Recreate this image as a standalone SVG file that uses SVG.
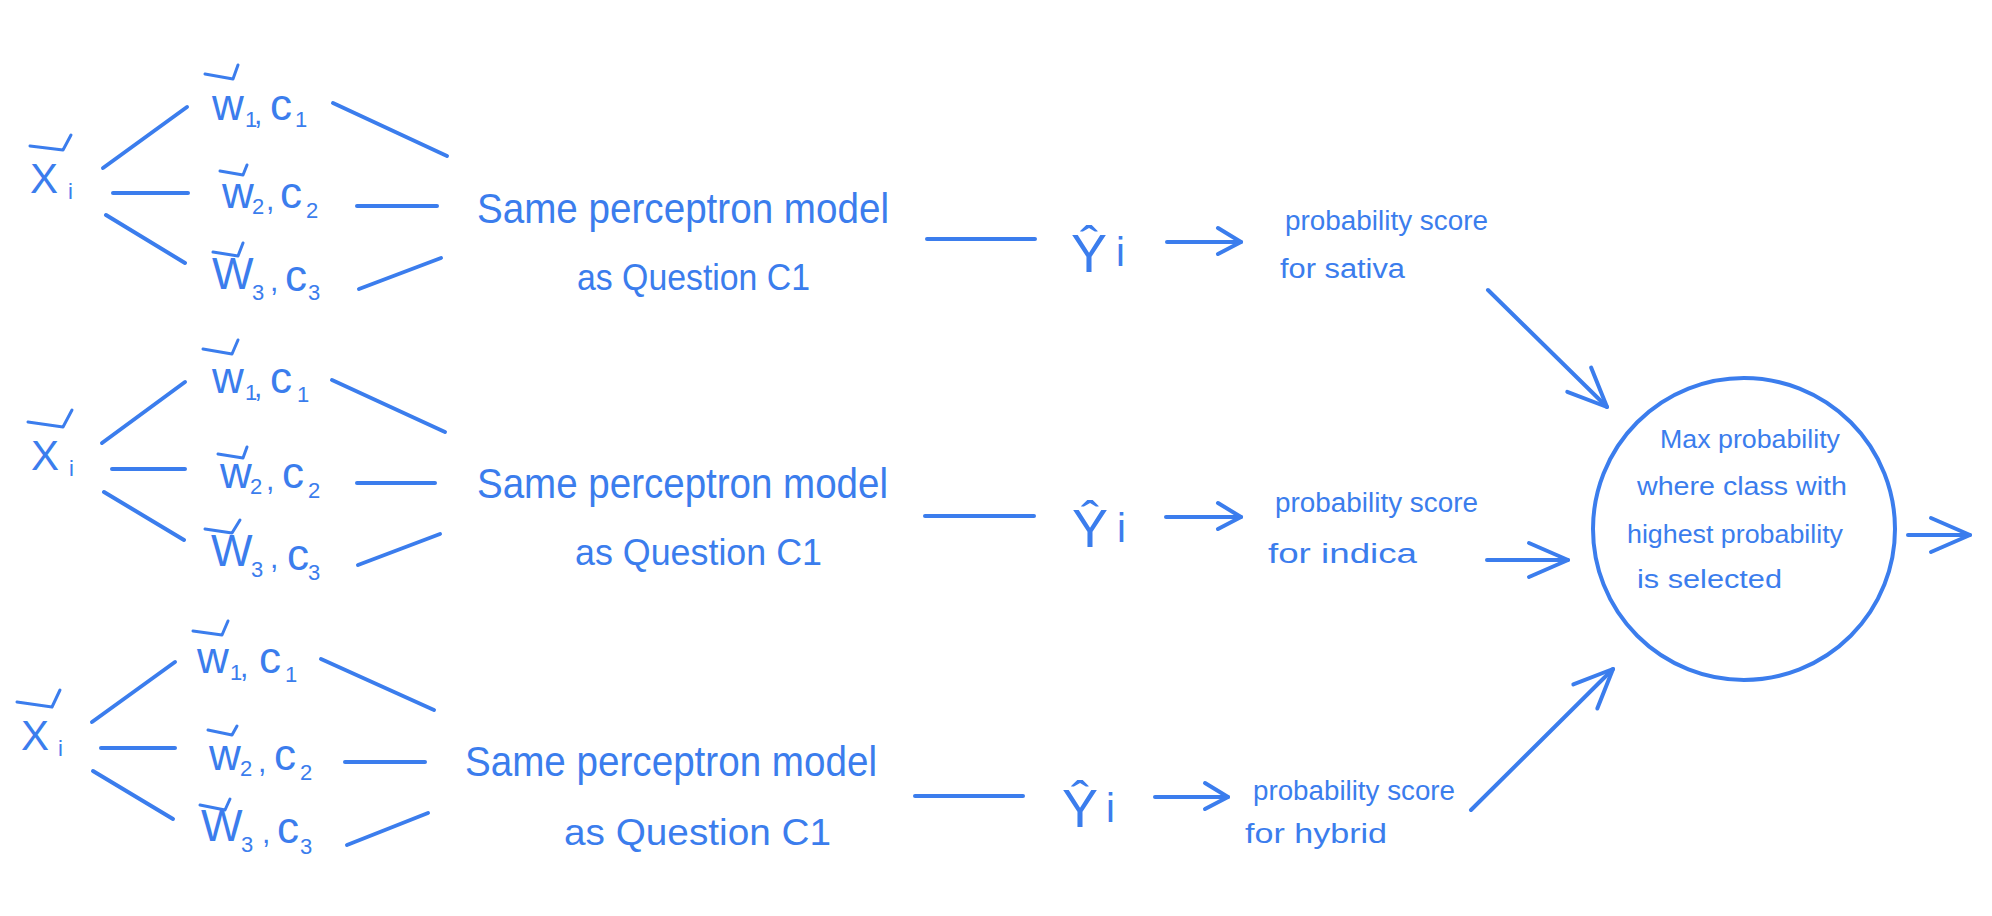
<svg xmlns="http://www.w3.org/2000/svg" width="1992" height="916" viewBox="0 0 1992 916">
<style>
.ink{fill:none;stroke:#3b7ded;stroke-width:4;stroke-linecap:round;stroke-linejoin:round}
.vec{fill:none;stroke:#3b7ded;stroke-width:3;stroke-linecap:round;stroke-linejoin:round}
.t{fill:#3b7ded;font-family:"Liberation Sans",Arial,sans-serif}
.big{font-size:44px}
.sub{font-size:22px}
.model{font-size:42px}
.as{font-size:36px}
.yh{font-size:54px}
.yi{font-size:40px}
.prob{font-size:27px}
.circ{font-size:25px}
</style>
<defs>
<marker id="ahs" markerUnits="userSpaceOnUse" viewBox="-30 -20 36 40" refX="0" refY="0" markerWidth="36" markerHeight="40" orient="auto" overflow="visible">
<path class="ink" d="M-23,-14 L0,0 L-23,12"/>
</marker>
<marker id="ahb" markerUnits="userSpaceOnUse" viewBox="-45 -25 50 50" refX="0" refY="0" markerWidth="50" markerHeight="50" orient="auto" overflow="visible">
<path class="ink" d="M-39,-17 L0,0 L-39,17"/>
</marker>
</defs>
<rect width="1992" height="916" fill="#ffffff"/>

<g id="connectors">
<!-- row 1 -->
<line class="ink" x1="103" y1="168" x2="187" y2="107"/>
<line class="ink" x1="113" y1="193" x2="188" y2="193"/>
<line class="ink" x1="106" y1="215" x2="185" y2="263"/>
<line class="ink" x1="333" y1="103" x2="447" y2="156"/>
<line class="ink" x1="357" y1="206" x2="437" y2="206"/>
<line class="ink" x1="359" y1="289" x2="441" y2="258"/>
<line class="ink" x1="927" y1="239" x2="1035" y2="239"/>
<line class="ink" x1="1167" y1="242" x2="1241" y2="242" marker-end="url(#ahs)"/>
<!-- row 2 -->
<line class="ink" x1="102" y1="443" x2="185" y2="382"/>
<line class="ink" x1="112" y1="469" x2="185" y2="469"/>
<line class="ink" x1="104" y1="492" x2="184" y2="540"/>
<line class="ink" x1="332" y1="380" x2="445" y2="432"/>
<line class="ink" x1="357" y1="483" x2="435" y2="483"/>
<line class="ink" x1="358" y1="565" x2="440" y2="534"/>
<line class="ink" x1="925" y1="516" x2="1034" y2="516"/>
<line class="ink" x1="1166" y1="517" x2="1241" y2="517" marker-end="url(#ahs)"/>
<!-- row 3 -->
<line class="ink" x1="92" y1="722" x2="175" y2="662"/>
<line class="ink" x1="101" y1="748" x2="175" y2="748"/>
<line class="ink" x1="93" y1="771" x2="173" y2="819"/>
<line class="ink" x1="321" y1="659" x2="434" y2="710"/>
<line class="ink" x1="345" y1="762" x2="425" y2="762"/>
<line class="ink" x1="347" y1="845" x2="428" y2="813"/>
<line class="ink" x1="915" y1="796" x2="1023" y2="796"/>
<line class="ink" x1="1155" y1="797" x2="1228" y2="797" marker-end="url(#ahs)"/>
<!-- into / out of circle -->
<line class="ink" x1="1488" y1="290" x2="1607" y2="407" marker-end="url(#ahb)"/>
<line class="ink" x1="1487" y1="560" x2="1568" y2="560" marker-end="url(#ahb)"/>
<line class="ink" x1="1471" y1="810" x2="1613" y2="669" marker-end="url(#ahb)"/>
<line class="ink" x1="1908" y1="535" x2="1970" y2="535" marker-end="url(#ahb)"/>
</g>

<!-- ROW 1 -->
<g id="x-row1">
<path class="vec" d="M30,146 L63,150 L71,135"/>
<text class="t" x="30" y="193" font-size="42">X<tspan class="sub" x="68" y="199">i</tspan></text>
</g>
<g id="w1-row1">
<path class="vec" d="M205,74 L233,79 L238,65"/>
<text class="t big" x="212" y="120">w<tspan class="sub" x="245" y="127">1</tspan><tspan x="254" y="124" font-size="30">,</tspan><tspan x="270" y="120">c</tspan><tspan class="sub" x="295" y="127">1</tspan></text>
</g>
<g id="w2-row1">
<path class="vec" d="M220,171 L243,175 L247,165"/>
<text class="t big" x="222" y="208">w<tspan class="sub" x="252" y="214">2</tspan><tspan x="266" y="210" font-size="30">,</tspan><tspan x="280" y="208">c</tspan><tspan class="sub" x="306" y="218">2</tspan></text>
</g>
<g id="w3-row1">
<path class="vec" d="M213,252 L238,256 L243,243"/>
<text class="t big" x="212" y="289">W<tspan class="sub" x="252" y="300">3</tspan><tspan x="270" y="291" font-size="30">,</tspan><tspan x="285" y="291">c</tspan><tspan class="sub" x="308" y="300">3</tspan></text>
</g>
<g id="model-row1">
<text class="t model" x="477" y="223" textLength="412" lengthAdjust="spacingAndGlyphs">Same perceptron model</text>
<text class="t as" x="577" y="290" textLength="233" lengthAdjust="spacingAndGlyphs">as Question C1</text>
</g>
<g id="yhat-row1">
<text class="t yh" x="1071" y="272">Ŷ<tspan class="yi" x="1116" y="266">i</tspan></text>
</g>
<g id="prob-row1">
<text class="t prob" x="1285" y="230" textLength="203" lengthAdjust="spacingAndGlyphs">probability score</text>
<text class="t prob" x="1280" y="278" textLength="125" lengthAdjust="spacingAndGlyphs">for sativa</text>
</g>

<!-- ROW 2 -->
<g id="x-row2">
<path class="vec" d="M28,422 L63,427 L72,410"/>
<text class="t" x="31" y="470" font-size="42">X<tspan class="sub" x="69" y="476">i</tspan></text>
</g>
<g id="w1-row2">
<path class="vec" d="M203,349 L232,354 L238,340"/>
<text class="t big" x="212" y="393">w<tspan class="sub" x="245" y="400">1</tspan><tspan x="254" y="397" font-size="30">,</tspan><tspan x="270" y="393">c</tspan><tspan class="sub" x="297" y="402">1</tspan></text>
</g>
<g id="w2-row2">
<path class="vec" d="M218,454 L243,458 L247,447"/>
<text class="t big" x="220" y="488">w<tspan class="sub" x="250" y="494">2</tspan><tspan x="266" y="490" font-size="30">,</tspan><tspan x="282" y="488">c</tspan><tspan class="sub" x="308" y="498">2</tspan></text>
</g>
<g id="w3-row2">
<path class="vec" d="M205,529 L232,533 L240,520"/>
<text class="t big" x="211" y="566">W<tspan class="sub" x="251" y="577">3</tspan><tspan x="270" y="568" font-size="30">,</tspan><tspan x="287" y="570">c</tspan><tspan class="sub" x="308" y="580">3</tspan></text>
</g>
<g id="model-row2">
<text class="t model" x="477" y="498" textLength="411" lengthAdjust="spacingAndGlyphs">Same perceptron model</text>
<text class="t as" x="575" y="565" textLength="247" lengthAdjust="spacingAndGlyphs">as Question C1</text>
</g>
<g id="yhat-row2">
<text class="t yh" x="1072" y="547">Ŷ<tspan class="yi" x="1117" y="542">i</tspan></text>
</g>
<g id="prob-row2">
<text class="t prob" x="1275" y="512" textLength="203" lengthAdjust="spacingAndGlyphs">probability score</text>
<text class="t prob" x="1268" y="563" textLength="149" lengthAdjust="spacingAndGlyphs">for indica</text>
</g>

<!-- ROW 3 -->
<g id="x-row3">
<path class="vec" d="M17,702 L52,707 L60,690"/>
<text class="t" x="21" y="750" font-size="42">X<tspan class="sub" x="58" y="756">i</tspan></text>
</g>
<g id="w1-row3">
<path class="vec" d="M193,631 L222,635 L228,621"/>
<text class="t big" x="197" y="673">w<tspan class="sub" x="230" y="680">1</tspan><tspan x="240" y="677" font-size="30">,</tspan><tspan x="259" y="673">c</tspan><tspan class="sub" x="285" y="682">1</tspan></text>
</g>
<g id="w2-row3">
<path class="vec" d="M208,730 L232,735 L237,726"/>
<text class="t big" x="209" y="770">w<tspan class="sub" x="240" y="776">2</tspan><tspan x="258" y="772" font-size="30">,</tspan><tspan x="274" y="770">c</tspan><tspan class="sub" x="300" y="780">2</tspan></text>
</g>
<g id="w3-row3">
<path class="vec" d="M200,805 L225,810 L230,799"/>
<text class="t big" x="201" y="841">W<tspan class="sub" x="241" y="852">3</tspan><tspan x="262" y="843" font-size="30">,</tspan><tspan x="277" y="843">c</tspan><tspan class="sub" x="300" y="854">3</tspan></text>
</g>
<g id="model-row3">
<text class="t model" x="465" y="776" textLength="412" lengthAdjust="spacingAndGlyphs">Same perceptron model</text>
<text class="t as" x="564" y="845" textLength="267" lengthAdjust="spacingAndGlyphs">as Question C1</text>
</g>
<g id="yhat-row3">
<text class="t yh" x="1062" y="827">Ŷ<tspan class="yi" x="1106" y="822">i</tspan></text>
</g>
<g id="prob-row3">
<text class="t prob" x="1253" y="800" textLength="202" lengthAdjust="spacingAndGlyphs">probability score</text>
<text class="t prob" x="1245" y="843" textLength="142" lengthAdjust="spacingAndGlyphs">for hybrid</text>
</g>

<!-- MAX node -->
<g id="max-node">
<circle class="ink" cx="1744" cy="529" r="151" stroke-width="3.5"/>
<text class="t circ" x="1660" y="448" textLength="180" lengthAdjust="spacingAndGlyphs">Max probability</text>
<text class="t circ" x="1637" y="495" textLength="210" lengthAdjust="spacingAndGlyphs">where class with</text>
<text class="t circ" x="1627" y="543" textLength="216" lengthAdjust="spacingAndGlyphs">highest probability</text>
<text class="t circ" x="1637" y="588" textLength="145" lengthAdjust="spacingAndGlyphs">is selected</text>
</g>
</svg>
